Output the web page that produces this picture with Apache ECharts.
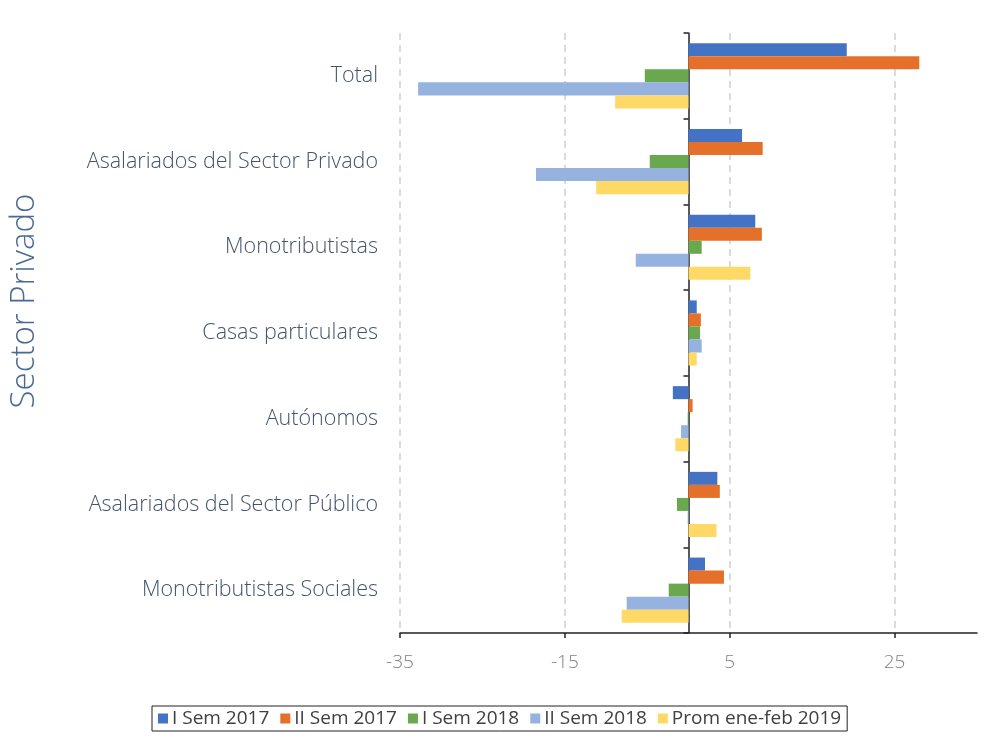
<!DOCTYPE html>
<html>
<head>
<meta charset="utf-8">
<script src="https://cdn.jsdelivr.net/npm/echarts@6/dist/echarts.min.js"></script>
<style>
  html, body { margin: 0; padding: 0; background: #fff; }
  #chart { width: 989px; height: 743px; }
</style>
</head>
<body>
<div id="chart"></div>
<script>
const categories = [
  "Total",
  "Asalariados del Sector Privado",
  "Monotributistas",
  "Casas particulares",
  "Autónomos",
  "Asalariados del Sector Público",
  "Monotributistas Sociales",
];

const seriesNames = ["I Sem 2017", "II Sem 2017", "I Sem 2018", "II Sem 2018", "Prom ene-feb 2019"];

const semI2017 = [19.2, 6.5, 8.1, 1.0, -1.9, 3.5, 2.0];
const semII2017 = [28.0, 9.0, 8.9, 1.5, 0.5, 3.8, 4.3];
const semI2018 = [-5.3, -4.7, 1.6, 1.4, -0.1, -1.4, -2.4];
const semII2018 = [-32.8, -18.5, -6.4, 1.6, -0.9, -0.1, -7.5];
const promEneFeb2019 = [-8.9, -11.2, 7.5, 1.0, -1.6, 3.4, -8.1];

const xTicks = { min: -35, max: 35, interval: 20 };

const colors = ["#4472C4", "#E4702A", "#6AA84F", "#95B3DE", "#FFD966"];

const chart = echarts.init(document.getElementById("chart"));

const values = [semI2017, semII2017, semI2018, semII2018, promEneFeb2019];

chart.setOption({
  animation: false,
  color: colors,
  textStyle: { fontFamily: "Open Sans" },
  grid: { left: 400, right: 12, top: 33, bottom: 110, containLabel: false },
  graphic: [
    {
      type: "text",
      x: 25,
      y: 301,
      rotation: Math.PI / 2,
      style: {
        text: "Sector Privado",
        fontSize: 33,
        fontFamily: "Open Sans",
        fontWeight: 300,
        fill: "#4A6A93",
        align: "center",
        verticalAlign: "middle",
      },
    },
  ],
  legend: {
    left: 152,
    bottom: 12,
    itemWidth: 10,
    itemHeight: 10,
    itemGap: 11,
    padding: [3, 6],
    borderColor: "#222",
    borderWidth: 1,
    icon: "rect",
    textStyle: { fontSize: 19, color: "#404040", padding: [0, 0, 0, -1] },
    data: seriesNames,
  },
  xAxis: {
    type: "value",
    min: xTicks.min,
    max: xTicks.max,
    interval: xTicks.interval,
    axisLine: { show: true, lineStyle: { color: "#222", width: 1.5 } },
    axisTick: { show: true, length: 5, lineStyle: { color: "#222", width: 1.5 } },
    axisLabel: { color: "#808080", fontSize: 19, fontWeight: 300, margin: 20, showMaxLabel: false },
    splitLine: {
      show: true,
      showMaxLine: false,
      lineStyle: { color: "#cfcfcf", type: [7, 5], width: 1.5 },
    },
  },
  yAxis: [
    {
      type: "category",
      data: categories,
      inverse: true,
      position: "left",
      axisLine: { show: false, onZero: false },
      axisTick: { show: false },
      axisLabel: { color: "#44546A", fontSize: 21.5, fontWeight: 300, margin: 22, padding: [0, 0, 6, 0] },
    },
    {
      type: "category",
      data: categories,
      inverse: true,
      position: "left",
      axisLine: { show: true, onZero: true, lineStyle: { color: "#222", width: 1.5 } },
      axisTick: { show: true, length: 5, lineStyle: { color: "#222", width: 1.5 } },
      axisLabel: { show: false },
    },
  ],
  series: seriesNames.map((name, i) => ({
    name,
    type: "bar",
    yAxisIndex: 0,
    data: values[i],
    barGap: "0%",
    barCategoryGap: "24%",
  })),
});
</script>
</body>
</html>
